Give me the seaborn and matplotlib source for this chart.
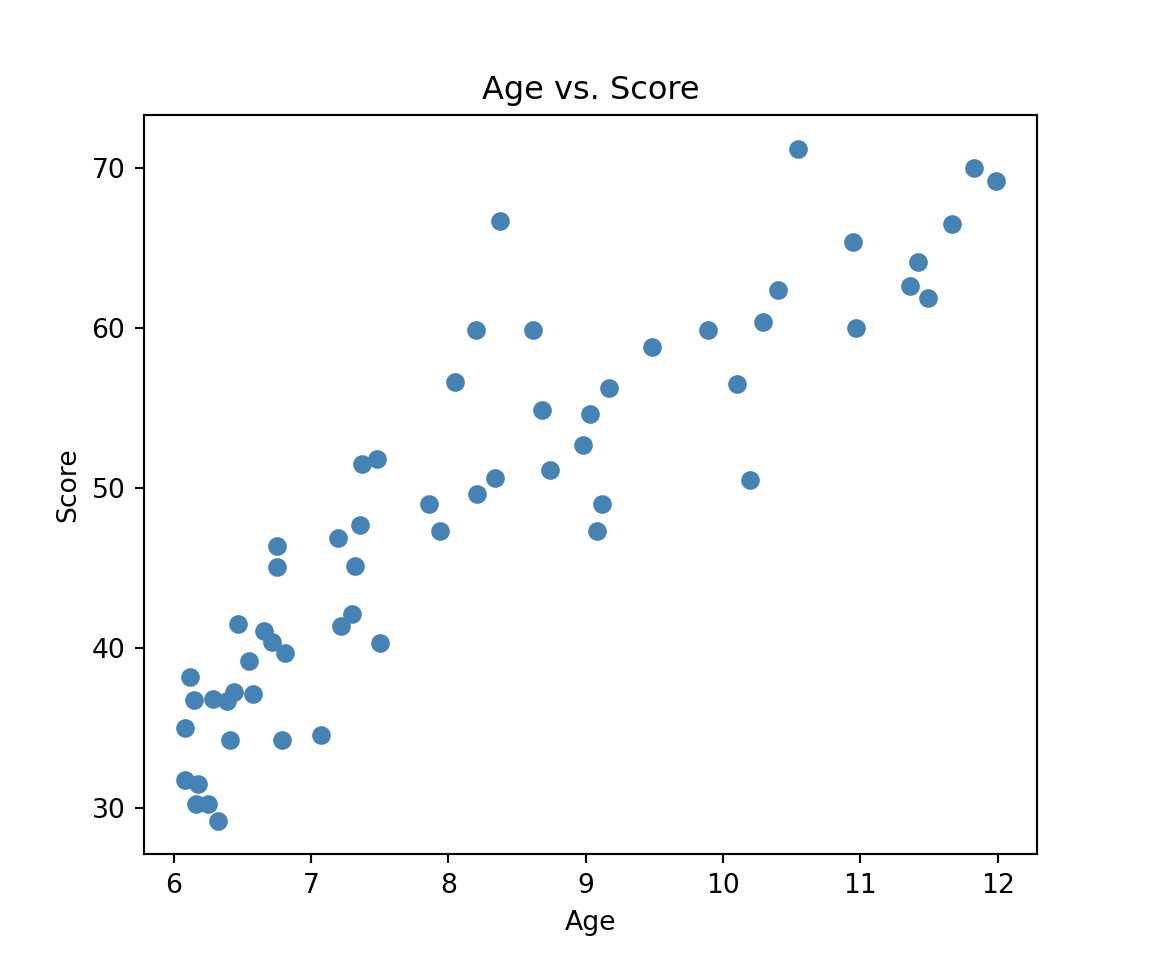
import matplotlib
matplotlib.use("Agg")
import matplotlib.pyplot as plt
import seaborn as sns
import pandas as pd

age = [6.08, 6.12, 6.15, 6.08, 6.18, 6.16, 6.25, 6.32, 6.29, 6.39,
       6.44, 6.41, 6.47, 6.55, 6.58, 6.66, 6.72, 6.81, 6.75, 6.75,
       6.79, 7.07, 7.20, 7.22, 7.30, 7.32, 7.36, 7.37, 7.48, 7.50,
       7.86, 7.94, 8.05, 8.20, 8.21, 8.34, 8.38, 8.62, 8.68, 8.74,
       8.98, 9.03, 9.08, 9.12, 9.17, 9.48, 9.89, 10.10, 10.20, 10.29,
       10.40, 10.55, 10.95, 10.97, 11.36, 11.42, 11.49, 11.67, 11.83, 11.99]
score = [35.0, 38.2, 36.75, 31.75, 31.5, 30.25, 30.25, 29.2, 36.8, 36.7,
         37.25, 34.25, 41.5, 39.2, 37.1, 41.06, 40.4, 39.7, 46.4, 45.06,
         34.25, 34.56, 46.9, 41.4, 42.1, 45.1, 47.7, 51.5, 51.8, 40.3,
         49.0, 47.3, 56.6, 59.9, 49.6, 50.6, 66.7, 59.9, 54.9, 51.1,
         52.7, 54.6, 47.3, 49.0, 56.25, 58.8, 59.9, 56.5, 50.5, 60.4,
         62.4, 71.2, 65.4, 60.0, 62.6, 64.1, 61.9, 66.5, 70.0, 69.2]

df = pd.DataFrame({"Age": age, "Score": score})

fig, ax = plt.subplots(figsize=(6, 5), dpi=192)
sns.scatterplot(data=df, x="Age", y="Score", ax=ax, color="steelblue",
                s=36, edgecolor="steelblue", linewidth=1.0)
ax.set_title("Age vs. Score")
ax.set_xlabel("Age")
ax.set_ylabel("Score")
fig.savefig("out.png", dpi=192)
